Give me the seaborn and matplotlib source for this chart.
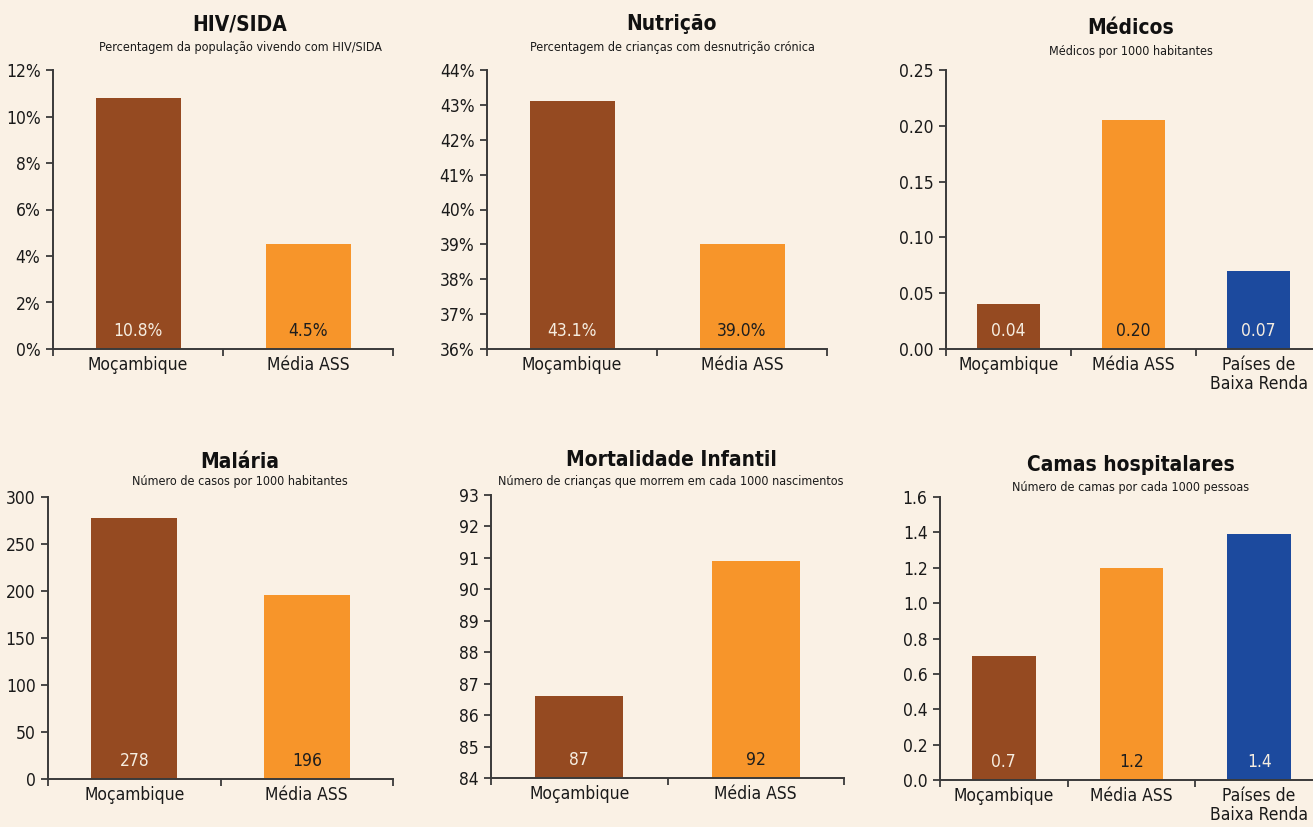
import matplotlib
matplotlib.use("Agg")
import matplotlib.pyplot as plt
import matplotlib.transforms as mtransforms
from matplotlib import font_manager
from matplotlib.ticker import FixedLocator, FuncFormatter
import seaborn as sns
import pandas as pd

sns.set_theme(style="white")

# pick a condensed family if one is installed
cond = None
for f in font_manager.fontManager.ttflist:
    nm = f.name
    st = str(f.stretch).lower()
    if ("Narrow" in nm or "Condensed" in nm or "condensed" in st) and "Mono" not in nm:
        cond = nm
        break
base = cond if cond else "Liberation Sans"
plt.rcParams['font.family'] = [base, 'DejaVu Sans']
if cond and "condensed" in str([f.stretch for f in font_manager.fontManager.ttflist if f.name == cond]).lower():
    plt.rcParams['font.stretch'] = 'condensed'

BG = "#FAF1E5"
BROWN = "#954A21"
ORANGE = "#F7952A"
BLUE = "#1C4A9E"

# ---- data ----
cats2 = ["Moçambique", "Média ASS"]
cats3 = ["Moçambique", "Média ASS", "Países de\nBaixa Renda"]

hiv_values = [10.8, 4.5]
hiv_labels = ["10.8%", "4.5%"]

nut_values = [43.1, 39.0]
nut_labels = ["43.1%", "39.0%"]

med_values = [0.04, 0.205, 0.07]
med_labels = ["0.04", "0.20", "0.07"]

mal_values = [278, 196]
mal_labels = ["278", "196"]

mort_values = [86.6, 90.9]
mort_labels = ["87", "92"]

camas_values = [0.7, 1.2, 1.39]
camas_labels = ["0.7", "1.2", "1.4"]

W, H = 1313, 827
fig = plt.figure(figsize=(W / 100, H / 100), dpi=100)
fig.patch.set_facecolor(BG)

FS = 12.5 if cond else 11.5
TFS = 15 if cond else 13
SFS = 9 if cond else 8

panels = [
    dict(title="HIV/SIDA", sub="Percentagem da população vivendo com HIV/SIDA",
         cats=cats2, vals=hiv_values, labs=hiv_labels,
         ylim=(0, 12), ticks=[0, 2, 4, 6, 8, 10, 12], fmt=lambda v: f"{v:.0f}%",
         box=(53, 70, 393, 349), tx=240, ty=24, sy=47),
    dict(title="Nutrição", sub="Percentagem de crianças com desnutrição crónica",
         cats=cats2, vals=nut_values, labs=nut_labels,
         ylim=(36, 44), ticks=list(range(36, 45)), fmt=lambda v: f"{v:.0f}%",
         box=(487, 70, 827, 349), tx=672, ty=24, sy=47),
    dict(title="Médicos", sub="Médicos por 1000 habitantes",
         cats=cats3, vals=med_values, labs=med_labels,
         ylim=(0, 0.25), ticks=[0, 0.05, 0.10, 0.15, 0.20, 0.25], fmt=lambda v: f"{v:.2f}",
         box=(946, 70, 1321, 349), tx=1131, ty=28, sy=51),
    dict(title="Malária", sub="Número de casos por 1000 habitantes",
         cats=cats2, vals=mal_values, labs=mal_labels,
         ylim=(0, 300), ticks=[0, 50, 100, 150, 200, 250, 300], fmt=lambda v: f"{v:.0f}",
         box=(48, 497, 393, 779), tx=240, ty=462, sy=482),
    dict(title="Mortalidade Infantil", sub="Número de crianças que morrem em cada 1000 nascimentos",
         cats=cats2, vals=mort_values, labs=mort_labels,
         ylim=(84, 93), ticks=list(range(84, 94)), fmt=lambda v: f"{v:.0f}",
         box=(491, 495, 844, 778), tx=671, ty=460, sy=481),
    dict(title="Camas hospitalares", sub="Número de camas por cada 1000 pessoas",
         cats=cats3, vals=camas_values, labs=camas_labels,
         ylim=(0, 1.6), ticks=[0, 0.2, 0.4, 0.6, 0.8, 1.0, 1.2, 1.4, 1.6], fmt=lambda v: f"{v:.1f}",
         box=(940, 497, 1323, 780), tx=1131, ty=465, sy=487),
]

colors_all = [BROWN, ORANGE, BLUE]
text_colors = ["#F6EDE0", "#1E1E1E", "#F6EDE0"]

for p in panels:
    x0, y0, x1, y1 = p["box"]
    ax = fig.add_axes([x0 / W, 1 - y1 / H, (x1 - x0) / W, (y1 - y0) / H])
    ax.set_facecolor("none")
    n = len(p["cats"])
    df = pd.DataFrame({"cat": p["cats"], "val": p["vals"]})
    pal = dict(zip(p["cats"], colors_all[:n]))
    sns.barplot(data=df, x="cat", y="val", hue="cat", palette=pal, width=0.5,
                saturation=1, legend=False, ax=ax, order=p["cats"],
                linewidth=0, edgecolor="none")
    ax.set_xlim(-0.5, n - 0.5)
    lo, hi = p["ylim"]
    ax.set_ylim(lo, hi)
    ax.set_yticks(p["ticks"])
    ax.yaxis.set_major_formatter(FuncFormatter(lambda v, pos, f=p["fmt"]: f(v)))
    ax.set_xlabel("")
    ax.set_ylabel("")
    for s in ["top", "right"]:
        ax.spines[s].set_visible(False)
    for s in ["left", "bottom"]:
        ax.spines[s].set_color("#3a3a3a")
        ax.spines[s].set_linewidth(1.4)
    ax.tick_params(axis="y", which="major", direction="out", length=5, width=1.3,
                   color="#3a3a3a", labelsize=FS, labelcolor="#1a1a1a", pad=4, left=True)
    ax.tick_params(axis="x", which="major", length=0, labelsize=FS, labelcolor="#1a1a1a", pad=5)
    ax.xaxis.set_minor_locator(FixedLocator([i - 0.5 for i in range(n + 1)]))
    ax.tick_params(axis="x", which="minor", direction="out", length=5, width=1.3,
                   color="#3a3a3a", bottom=True)
    for lab in ax.get_xticklabels():
        lab.set_horizontalalignment("center")
        lab.set_linespacing(1.1)
    trans = mtransforms.blended_transform_factory(ax.transData, ax.transAxes)
    for i, lab in enumerate(p["labs"]):
        ax.text(i, 0.065, lab, transform=trans, ha="center", va="center",
                fontsize=FS, color=text_colors[i])
    fig.text(p["tx"] / W, 1 - p["ty"] / H, p["title"], ha="center", va="center",
             fontsize=TFS, fontweight="bold", color="#111111")
    fig.text(p["tx"] / W, 1 - p["sy"] / H, p["sub"], ha="center", va="center",
             fontsize=SFS, color="#1a1a1a")

fig.savefig("out.png", dpi=100, facecolor=BG)
